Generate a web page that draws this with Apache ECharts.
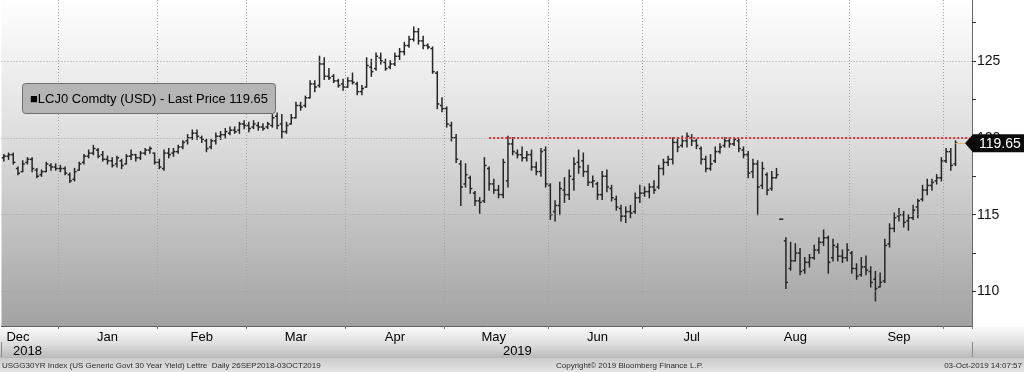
<!DOCTYPE html>
<html><head><meta charset="utf-8">
<script src="https://cdn.jsdelivr.net/npm/echarts@6/dist/echarts.min.js"></script>
<style>html,body{margin:0;padding:0;background:#fff;}#c{width:1024px;height:372px;}</style>
</head><body><div id="c"></div>
<script>
// Trading days (holidays excluded) shown on the axis
const dates = [
'2018-12-13','2018-12-14','2018-12-17','2018-12-18','2018-12-19','2018-12-20','2018-12-21','2018-12-24','2018-12-26','2018-12-27','2018-12-28','2018-12-31',
'2019-01-02','2019-01-03','2019-01-04','2019-01-07','2019-01-08','2019-01-09','2019-01-10','2019-01-11','2019-01-14','2019-01-15','2019-01-16','2019-01-17','2019-01-18','2019-01-22','2019-01-23','2019-01-24','2019-01-25','2019-01-28','2019-01-29','2019-01-30','2019-01-31',
'2019-02-01','2019-02-04','2019-02-05','2019-02-06','2019-02-07','2019-02-08','2019-02-11','2019-02-12','2019-02-13','2019-02-14','2019-02-15','2019-02-19','2019-02-20','2019-02-21','2019-02-22','2019-02-25','2019-02-26','2019-02-27','2019-02-28',
'2019-03-01','2019-03-04','2019-03-05','2019-03-06','2019-03-07','2019-03-08','2019-03-11','2019-03-12','2019-03-13','2019-03-14','2019-03-15','2019-03-18','2019-03-19','2019-03-20','2019-03-21','2019-03-22','2019-03-25','2019-03-26','2019-03-27','2019-03-28','2019-03-29',
'2019-04-01','2019-04-02','2019-04-03','2019-04-04','2019-04-05','2019-04-08','2019-04-09','2019-04-10','2019-04-11','2019-04-12','2019-04-15','2019-04-16','2019-04-17','2019-04-18','2019-04-22','2019-04-23','2019-04-24','2019-04-25','2019-04-26','2019-04-29','2019-04-30',
'2019-05-01','2019-05-02','2019-05-03','2019-05-06','2019-05-07','2019-05-08','2019-05-09','2019-05-10','2019-05-13','2019-05-14','2019-05-15','2019-05-16','2019-05-17','2019-05-20','2019-05-21','2019-05-22','2019-05-23','2019-05-24','2019-05-28','2019-05-29','2019-05-30','2019-05-31',
'2019-06-03','2019-06-04','2019-06-05','2019-06-06','2019-06-07','2019-06-10','2019-06-11','2019-06-12','2019-06-13','2019-06-14','2019-06-17','2019-06-18','2019-06-19','2019-06-20','2019-06-21','2019-06-24','2019-06-25','2019-06-26','2019-06-27','2019-06-28',
'2019-07-01','2019-07-02','2019-07-03','2019-07-05','2019-07-08','2019-07-09','2019-07-10','2019-07-11','2019-07-12','2019-07-15','2019-07-16','2019-07-17','2019-07-18','2019-07-19','2019-07-22','2019-07-23','2019-07-24','2019-07-25','2019-07-26','2019-07-29','2019-07-30','2019-07-31',
'2019-08-01','2019-08-02','2019-08-05','2019-08-06','2019-08-07','2019-08-08','2019-08-09','2019-08-12','2019-08-13','2019-08-14','2019-08-15','2019-08-16','2019-08-19','2019-08-20','2019-08-21','2019-08-22','2019-08-23','2019-08-26','2019-08-27','2019-08-28','2019-08-29','2019-08-30',
'2019-09-03','2019-09-04','2019-09-05','2019-09-06','2019-09-09','2019-09-10','2019-09-11','2019-09-12','2019-09-13','2019-09-16','2019-09-17','2019-09-18','2019-09-19','2019-09-20','2019-09-23','2019-09-24','2019-09-25','2019-09-26','2019-09-27','2019-09-30',
'2019-10-01','2019-10-02','2019-10-03','2019-10-04','2019-10-07','2019-10-08'
];
const opens = [
118.7,118.8,118.9,118.0,117.8,118.4,118.6,117.9,117.6,117.8,118.2,118.1,
118.0,118.0,117.6,117.3,117.9,118.4,118.8,119.0,119.2,118.9,118.6,118.5,118.3,118.5,118.3,118.8,118.9,118.7,119.0,119.2,119.0,
118.4,118.0,119.0,119.0,119.1,119.4,119.8,120.0,120.3,120.0,119.8,119.4,119.8,120.1,120.2,120.3,120.5,120.5,120.9,
120.8,120.7,120.8,120.7,120.7,120.8,121.4,120.9,120.4,120.9,121.3,122.1,122.1,122.6,123.5,123.4,124.8,124.0,124.0,123.7,123.5,
123.3,123.7,123.5,123.0,123.3,124.6,124.5,125.2,124.9,124.6,124.8,125.3,125.6,126.0,126.4,126.9,126.3,126.0,125.8,124.2,122.1,
121.9,120.8,120.0,118.3,117.0,117.4,116.4,115.9,115.9,118.0,117.0,116.6,116.3,117.2,119.6,119.0,118.9,118.7,118.9,118.1,117.8,119.2,
116.9,115.2,115.6,116.6,116.3,117.3,118.4,118.5,117.8,117.1,117.0,116.3,117.5,116.7,116.0,115.4,114.9,115.2,115.2,116.1,
116.4,116.5,116.8,116.8,118.0,118.4,118.6,119.7,119.5,119.8,120.0,119.8,119.3,118.6,118.0,118.5,119.1,119.5,119.8,119.6,119.8,119.2,
118.9,117.8,118.3,116.9,117.6,116.7,117.4,114.7,113.3,111.5,112.0,112.5,111.4,111.9,112.2,112.7,113.2,113.5,112.2,112.9,112.3,112.2,
112.5,111.5,111.1,111.6,111.3,110.8,110.3,110.7,113.1,114.1,114.9,115.0,114.6,114.8,115.5,116.0,116.6,116.9,117.2,117.4,
118.5,119.1,118.3
];
const highs = [
118.9,119.0,119.0,118.1,118.5,118.7,118.7,118.0,117.9,118.4,118.3,118.3,
118.2,118.1,117.7,118.0,118.4,118.9,119.2,119.5,119.3,119.1,118.8,118.7,118.8,118.6,118.9,119.2,118.9,119.1,119.3,119.4,119.0,
118.6,119.2,119.3,119.3,119.5,119.8,120.2,120.5,120.5,120.1,119.9,119.9,120.3,120.4,120.6,120.7,120.7,121.0,121.1,
121.0,121.1,121.0,120.9,121.0,121.5,121.6,121.5,121.0,121.5,122.3,122.3,122.7,123.7,123.7,125.3,125.2,124.5,124.1,123.8,123.8,
123.9,124.2,123.6,123.4,125.2,125.1,125.5,125.5,125.1,125.0,125.5,125.8,126.2,126.6,127.2,127.1,126.6,126.1,125.9,124.3,122.6,
122.0,121.0,120.2,118.5,118.3,117.5,116.5,116.1,118.7,118.1,117.3,116.9,118.6,120.1,120.0,119.2,119.4,119.1,119.2,118.4,119.3,119.4,
117.0,115.9,117.1,117.4,117.9,118.7,119.2,119.0,118.2,117.5,117.1,117.8,117.9,116.9,116.2,115.6,115.5,115.6,116.4,116.9,
116.8,117.0,117.2,118.2,118.6,118.8,120.0,120.0,120.1,120.3,120.2,119.9,119.4,118.8,118.9,119.4,119.6,120.0,120.0,120.0,119.9,119.4,
119.1,118.6,118.5,118.4,117.7,117.8,118.0,114.7,113.5,113.2,113.1,112.8,112.2,112.4,113.0,113.5,114.0,113.6,113.4,113.1,112.7,113.1,
112.6,111.8,112.2,112.3,111.6,111.3,111.2,113.4,114.4,115.1,115.4,115.2,115.0,115.6,116.0,116.9,117.3,117.3,117.6,118.7,
119.3,119.3,119.8
];
const lows = [
118.5,118.6,118.3,117.6,117.8,118.3,117.8,117.4,117.5,117.8,117.9,117.9,
117.8,117.6,117.1,117.2,117.9,118.3,118.7,118.9,118.7,118.5,118.3,118.1,118.1,118.0,118.3,118.6,118.5,118.6,118.9,119.0,118.3,
118.0,117.9,118.7,118.8,119.0,119.3,119.6,119.9,119.9,119.7,119.1,119.3,119.6,119.9,120.0,120.2,120.3,120.3,120.6,
120.4,120.6,120.5,120.5,120.6,120.7,120.6,120.0,120.3,120.9,121.3,121.8,122.0,122.6,123.0,123.3,123.8,123.8,123.6,123.3,123.1,
123.3,123.5,122.8,122.8,123.3,124.0,124.4,124.8,124.4,124.5,124.7,125.1,125.4,125.9,126.3,126.1,125.8,125.8,124.2,121.9,121.7,
120.7,119.8,118.4,115.6,116.8,116.4,115.6,115.1,115.8,116.6,116.4,116.1,116.1,116.8,118.9,118.7,118.5,118.5,117.9,117.6,117.5,116.8,
114.7,114.6,115.0,115.8,116.0,116.6,117.7,117.5,116.9,116.8,116.0,116.0,116.5,115.9,115.3,114.6,114.5,114.8,115.1,115.8,
116.2,116.1,116.4,116.7,117.6,118.2,118.3,119.1,119.4,119.4,119.5,119.3,118.3,117.8,117.9,118.4,119.0,119.4,119.4,119.5,119.1,118.7,
117.4,117.4,115.0,116.7,116.3,116.6,117.4,114.7,110.2,111.4,112.0,111.1,111.2,111.6,112.1,112.5,113.0,111.2,112.0,112.0,111.9,112.0,
111.2,110.8,111.0,111.1,110.3,109.4,110.3,110.6,112.9,113.9,114.6,114.2,114.0,114.7,114.8,115.9,116.3,116.6,117.0,117.2,
118.4,117.9,118.2
];
const closes = [
118.8,118.9,118.4,117.7,118.3,118.6,118.0,117.5,117.8,118.3,118.1,118.0,
118.0,117.7,117.2,117.8,118.3,118.8,119.0,119.3,118.8,118.6,118.5,118.2,118.7,118.2,118.8,118.9,118.7,119.0,119.2,119.3,118.4,
118.1,119.0,118.9,119.1,119.4,119.7,120.0,120.3,120.1,119.9,119.3,119.8,120.1,120.2,120.4,120.5,120.4,120.9,120.8,
120.6,120.9,120.7,120.6,120.9,121.3,120.8,120.4,120.8,121.3,122.1,122.0,122.6,123.5,123.3,124.8,124.0,123.9,123.7,123.4,123.3,
123.7,123.6,123.0,123.2,124.7,124.3,125.3,125.0,124.5,124.8,125.3,125.6,126.0,126.4,126.9,126.3,126.0,125.9,124.3,122.2,121.9,
120.9,120.0,118.6,116.8,117.6,116.7,115.9,115.8,118.2,117.0,116.6,116.3,118.4,119.6,119.1,118.9,118.7,118.9,118.1,117.8,119.1,117.0,
115.0,115.6,116.7,116.3,117.5,118.3,118.1,117.8,117.1,117.2,116.3,117.5,116.8,116.1,115.5,114.9,115.2,115.1,116.1,116.4,
116.5,116.8,116.6,118.0,118.4,118.6,119.7,119.4,119.8,120.1,119.8,119.5,118.6,118.0,118.3,119.1,119.4,119.8,119.6,119.9,119.3,118.9,
117.7,118.3,116.8,118.0,116.6,117.4,117.6,114.7,110.6,112.0,112.5,111.3,111.9,112.2,112.7,113.2,113.5,111.9,113.0,112.3,112.2,112.7,
111.5,111.0,111.6,111.4,110.6,110.2,110.6,113.0,114.1,114.8,115.0,114.5,114.8,115.3,115.9,116.6,116.9,117.1,117.4,118.5,
119.1,118.2,119.65
];
const monthStarts = ['2019-01-02','2019-02-01','2019-03-01','2019-04-01','2019-05-01','2019-06-03','2019-07-01','2019-08-01','2019-09-03','2019-10-01'];
const monthLabelDates = ['2018-12-18','2019-01-16','2019-02-14','2019-03-15','2019-04-15','2019-05-15','2019-06-17','2019-07-16','2019-08-15','2019-09-17'];
const monthLabels = ['Dec','Jan','Feb','Mar','Apr','May','Jun','Jul','Aug','Sep'];
const yearBreaks = ['2019-01-02'];
const yearLabelDates = ['2018-12-20','2019-05-22'];
const yearLabels = ['2018','2019'];
const yTickLabels = [110,115,120,125];
const yTicks = [110,112.5,115,117.5,120,122.5,125,127.5];
const resistanceLevel = 120;
const resistanceStart = '2019-05-14';
const seriesName = 'LCJ0 Comdty (USD) - Last Price';
const footerLeft = 'USGG30YR Index (US Generic Govt 30 Year Yield) Lettre  Daily 26SEP2018-03OCT2019';
const footerMid = 'Copyright\u00a9 2019 Bloomberg Finance L.P.';
const footerRight = '03-Oct-2019 14:07:57';

const lastIdx = closes.length - 1;
const lastPrice = closes[lastIdx];
const lastText = lastPrice.toFixed(2);
const ohlc = closes.map((c, i) => [i, opens[i], c, lows[i], highs[i]]);
const FONT = 'Liberation Sans, Arial, sans-serif';

function renderBar(params, api) {
  const i = api.value(0);
  const pO = api.coord([i, api.value(1)]);
  const pC = api.coord([i, api.value(2)]);
  const pL = api.coord([i, api.value(3)]);
  const pH = api.coord([i, api.value(4)]);
  const half = api.size([1, 0])[0] * 0.45;
  const x = pH[0];
  const st = { stroke: '#262626', lineWidth: 1.5 };
  return { type: 'group', children: [
    { type: 'line', shape: { x1: x, y1: pH[1] - 0.6, x2: x, y2: pL[1] + 0.6 }, style: st },
    { type: 'line', shape: { x1: x - half, y1: pO[1], x2: x, y2: pO[1] }, style: st },
    { type: 'line', shape: { x1: x, y1: pC[1], x2: x + half, y2: pC[1] }, style: st }
  ]};
}

const dotted = { type: [1, 2], color: '#a4a4a4', width: 1 };
const chart = echarts.init(document.getElementById('c'), null, { renderer: 'canvas', width: 1024, height: 372 });

function baseGraphics(tagY) {
  const g = [
    { id: 'band', type: 'rect', z: -10, silent: true, shape: { x: 0, y: 327, width: 1024, height: 31 },
      style: { fill: { type: 'linear', x: 0, y: 0, x2: 0, y2: 1, colorStops: [{ offset: 0, color: '#fafafa' }, { offset: 0.55, color: '#dedede' }, { offset: 1, color: '#b9b9b9' }] } } },
    { id: 'foot', type: 'rect', z: -10, silent: true, shape: { x: 0, y: 358, width: 1024, height: 14 },
      style: { fill: { type: 'linear', x: 0, y: 0, x2: 0, y2: 1, colorStops: [{ offset: 0, color: '#cbcbcb' }, { offset: 1, color: '#e4e4e4' }] } } },
    { id: 'f1', type: 'text', z: 50, x: 2, y: 366, style: { text: footerLeft, font: '8px ' + FONT, fill: '#2a2a2a', verticalAlign: 'middle' } },
    { id: 'f2', type: 'text', z: 50, x: 556, y: 366, style: { text: footerMid, font: '8px ' + FONT, fill: '#2a2a2a', verticalAlign: 'middle' } },
    { id: 'f3', type: 'text', z: 50, x: 1022, y: 366, style: { text: footerRight, font: '8px ' + FONT, fill: '#2a2a2a', align: 'right', verticalAlign: 'middle' } },
    { id: 'legbox', type: 'rect', z: 100, shape: { x: 22.5, y: 83.5, width: 253, height: 30, r: 3 },
      style: { fill: '#b5b5b5', stroke: '#6f6f6f', lineWidth: 1 } },
    { id: 'legtxt', type: 'text', z: 101, x: 30, y: 99, style: { text: '\u25A0' + seriesName + ' ' + lastText, font: '13px ' + FONT, fill: '#000', verticalAlign: 'middle' } }
  ];
  if (tagY != null) {
    g.push({ id: 'tag', type: 'polygon', z: 100, shape: { points: [[965, tagY], [973, tagY - 9], [1024, tagY - 9], [1024, tagY + 9], [973, tagY + 9]] }, style: { fill: '#0a0a0a' } });
    g.push({ id: 'tagtxt', type: 'text', z: 101, x: 979, y: tagY + 0.5, style: { text: lastText, font: '14px ' + FONT, fill: '#ffffff', verticalAlign: 'middle' } });
  }
  return g;
}

const option = {
  backgroundColor: '#ffffff',
  animation: false,
  grid: { left: 1.5, right: 52, top: 0, bottom: 46, show: true, borderWidth: 0,
    backgroundColor: { type: 'linear', x: 0, y: 0, x2: 0, y2: 1, colorStops: [{ offset: 0, color: '#ffffff' }, { offset: 0.45, color: '#dbdbdb' }, { offset: 1, color: '#a2a2a2' }] } },
  xAxis: [
    { type: 'category', data: dates, boundaryGap: true,
      axisLine: { show: true, lineStyle: { color: '#5c5c5c' } },
      axisTick: { show: true, length: 3, interval: (i, v) => monthStarts.includes(v), lineStyle: { color: '#7a7a7a' } },
      axisLabel: { interval: (i, v) => monthLabelDates.includes(v), formatter: v => monthLabels[monthLabelDates.indexOf(v)] || '',
        fontSize: 13, color: '#000', margin: 5, fontFamily: FONT, hideOverlap: false },
      splitLine: { show: true, interval: (i, v) => monthStarts.includes(v), lineStyle: dotted } },
    { type: 'category', data: dates, boundaryGap: true, position: 'bottom', offset: 16,
      axisLine: { show: false },
      axisTick: { show: true, length: 15, interval: (i, v) => yearBreaks.includes(v), lineStyle: { color: '#8a8a8a' } },
      axisLabel: { interval: (i, v) => yearLabelDates.includes(v), formatter: v => yearLabels[yearLabelDates.indexOf(v)] || '',
        fontSize: 13, color: '#000', margin: 3, fontFamily: FONT, hideOverlap: false },
      splitLine: { show: false } }
  ],
  yAxis: { type: 'value', position: 'right', min: 107.76, max: 128.96, scale: true,
    axisLine: { show: true, lineStyle: { color: '#6a6a6a' } },
    axisTick: { show: true, customValues: yTicks, length: 4, lineStyle: { color: '#333' } },
    axisLabel: { customValues: yTickLabels, fontSize: 14, color: '#111', margin: 5, fontFamily: FONT },
    splitLine: { show: false } },
  series: [
    { name: 'grid', type: 'line', data: [], z: 1, silent: true,
      markLine: { silent: true, symbol: ['none', 'none'], label: { show: false }, animation: false,
        data: yTickLabels.map(v => ({ yAxis: v, lineStyle: dotted })) } },
    { name: seriesName, type: 'custom', renderItem: renderBar, data: ohlc, z: 2,
      encode: { x: 0, y: [1, 2, 3, 4] } },
    { name: 'levels', type: 'line', data: [], z: 3, silent: true,
      markLine: { silent: true, symbol: ['none', 'none'], label: { show: false }, animation: false,
        data: [
          [{ coord: [dates.indexOf(resistanceStart), resistanceLevel], lineStyle: { color: '#e8343a', width: 2, type: 'dotted' } },
           { coord: [dates.length - 1, resistanceLevel] }],
          [{ coord: [lastIdx, lastPrice], lineStyle: { color: '#f2b27a', width: 1, type: 'solid' } },
           { coord: [dates.length - 1, lastPrice] }]
        ] } }
  ],
  graphic: baseGraphics(null)
};
chart.setOption(option);
const tagY = chart.convertToPixel({ yAxisIndex: 0 }, lastPrice);
chart.setOption({ graphic: baseGraphics(tagY) });
</script>
</body></html>
